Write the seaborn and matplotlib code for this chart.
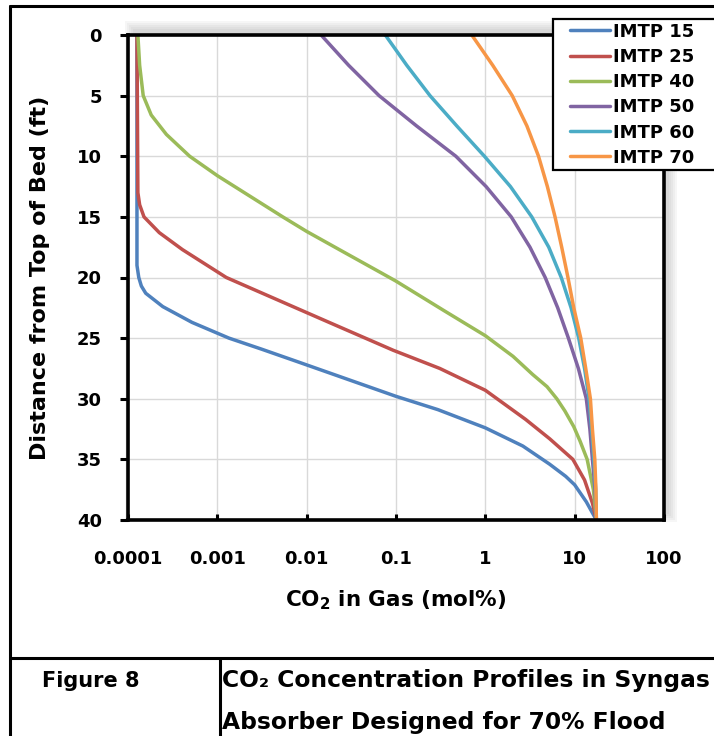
import matplotlib
matplotlib.use('Agg')
import numpy as np
import pandas as pd
import matplotlib.pyplot as plt
import seaborn as sns
from matplotlib.lines import Line2D
from matplotlib.patches import Rectangle
from matplotlib.legend_handler import HandlerLine2D
from matplotlib.ticker import NullLocator

sns.set_style('ticks')
plt.rcParams['font.family'] = ['DejaVu Sans']
plt.rcParams['font.weight'] = 'bold'
plt.rcParams['text.color'] = 'black'
plt.rcParams['axes.labelcolor'] = 'black'

# depth from top of bed (ft) / CO2 in gas (mol%)
depth_15 = [0, 19.0, 20.0, 20.7, 21.3, 22.4, 23.7, 25.0, 25.9, 27.0, 29.8, 30.9, 32.4, 33.9, 35.4,
            36.4, 37.1, 38.5, 40]
co2_15 = [1.26e-4, 1.26e-4, 1.32e-4, 1.41e-4, 1.58e-4, 2.45e-4, 5.2e-4, 1.35e-3, 3.1e-3, 8.3e-3,
          0.1, 0.295, 1.0, 2.63, 5.25, 7.94, 10.0, 13.5, 17.5]

depth_25 = [0, 13.0, 14.0, 15.0, 16.3, 17.7, 20.0, 21.8, 23.7, 26.0, 27.5, 29.3, 31.7, 33.3, 35.0,
            36.7, 38.6, 40]
co2_25 = [1.26e-4, 1.29e-4, 1.35e-4, 1.51e-4, 2.24e-4, 4.07e-4, 1.26e-3, 4.57e-3, 1.78e-2, 0.093,
          0.309, 1.0, 2.82, 5.25, 9.55, 12.9, 15.8, 17.5]

depth_40 = [0, 2.5, 5.0, 6.6, 8.2, 10.0, 11.6, 15.0, 16.2, 17.7, 19.6, 20.3, 22.7, 24.8, 26.5, 28.0,
            29.0, 30.0, 31.0, 32.3, 33.5, 35.0, 37.5, 40]
co2_40 = [1.29e-4, 1.35e-4, 1.48e-4, 1.82e-4, 2.69e-4, 4.9e-4, 1.0e-3, 5.4e-3, 0.01, 0.0232, 0.0676,
          0.1, 0.339, 1.0, 2.04, 3.39, 4.9, 6.31, 7.76, 9.77, 11.5, 13.8, 16.2, 17.5]

depth_50 = [0, 2.5, 5, 7.5, 10, 12.5, 15, 17.5, 20, 22.5, 25, 27.5, 30, 32.5, 35, 37.5, 40]
co2_50 = [0.0145, 0.0295, 0.0646, 0.17, 0.468, 1.02, 1.95, 3.16, 4.68, 6.46, 8.51, 11.0, 13.5, 14.8,
          15.8, 16.9, 17.5]

depth_60 = [0, 2.5, 5, 7.5, 10, 12.5, 15, 17.5, 20, 22.5, 25, 27.5, 30, 32.5, 35, 37.5, 40]
co2_60 = [0.0759, 0.132, 0.24, 0.479, 0.977, 1.91, 3.31, 5.13, 7.08, 9.12, 11.1, 12.9, 14.5, 15.5,
          16.4, 17.2, 17.5]

depth_70 = [0, 2.5, 5, 7.5, 10, 12.5, 15, 17.5, 20, 22.5, 25, 27.5, 30, 32.5, 35, 37.5, 40]
co2_70 = [0.705, 1.21, 2.0, 2.92, 3.94, 4.95, 6.03, 7.16, 8.41, 9.77, 11.7, 13.3, 15.0, 15.8, 16.8,
          17.3, 17.5]

names = ['IMTP 15', 'IMTP 25', 'IMTP 40', 'IMTP 50', 'IMTP 60', 'IMTP 70']
colors = ['#4f81bd', '#c0504d', '#9bbb59', '#8064a2', '#4bacc6', '#f79646']
x_ticks = [0.0001, 0.001, 0.01, 0.1, 1, 10, 100]
x_ticklabels = ['0.0001', '0.001', '0.01', '0.1', '1', '10', '100']
y_ticks = [0, 5, 10, 15, 20, 25, 30, 35, 40]

depths = [depth_15, depth_25, depth_40, depth_50, depth_60, depth_70]
co2s = [co2_15, co2_25, co2_40, co2_50, co2_60, co2_70]
df = pd.concat([pd.DataFrame({'depth': d, 'co2': c, 'series': n})
                for n, d, c in zip(names, depths, co2s)], ignore_index=True)

W, H = 714, 736
fig = plt.figure(figsize=(W / 100, H / 100), dpi=100)
fig.patch.set_facecolor('white')


def fx(px):
    return px / W


def fy(py):
    return 1 - py / H


ax = fig.add_axes([fx(128), fy(520), (664 - 128) / W, (520 - 35) / H])

# soft shadow behind the plot area (excel style)
for k in range(5):
    e = 2 * k
    fig.add_artist(Rectangle((fx(133 - e), fy(514 + e)), (536 + 2 * e) / W, (485 + 2 * e) / H,
                             transform=fig.transFigure, facecolor='#707070', alpha=0.06,
                             edgecolor='none', zorder=-1))

sns.lineplot(data=df, x='co2', y='depth', hue='series', hue_order=names, palette=colors,
             sort=False, estimator=None, linewidth=2.5, legend=False, ax=ax)
for line in ax.get_lines():
    line.set_solid_capstyle('round')
    line.set_solid_joinstyle('round')

ax.set_xscale('log')
ax.set_xlim(1e-4, 100)
ax.set_ylim(40, 0)
ax.set_xticks(x_ticks)
ax.set_xticklabels(x_ticklabels)
ax.xaxis.set_minor_locator(NullLocator())
ax.set_yticks(y_ticks)
ax.tick_params(axis='x', direction='in', length=4.3, width=2.2, pad=21.6, labelsize=13,
               color='black', labelcolor='black')
ax.tick_params(axis='y', direction='out', length=5.8, width=2.2, pad=13, labelsize=13,
               color='black', labelcolor='black')
ax.grid(True, color='#d9d9d9', lw=1.0)
ax.set_axisbelow(True)
for s in ax.spines.values():
    s.set_visible(True)
    s.set_linewidth(2.6)
    s.set_color('black')

ax.set_xlabel('CO$_\\mathregular{2}$ in Gas (mol%)', fontsize=15.5, fontweight='bold')
ax.xaxis.set_label_coords(0.5, -0.140)
ax.set_ylabel('Distance from Top of Bed (ft)', fontsize=16, fontweight='bold')
ax.yaxis.set_label_coords(-0.1455, 0.5)


class InsetLine(HandlerLine2D):
    # legend line drawn in the right part of the handle box
    def get_xdata(self, legend, xdescent, ydescent, width, height, fontsize):
        x0 = -xdescent + 0.25 * width
        return [x0, -xdescent + width], [x0]


leg = ax.legend(ax.get_lines(), names, loc='upper left',
                bbox_to_anchor=(fx(553), fy(175), 180 / W, 156 / H), bbox_transform=fig.transFigure,
                mode='expand', borderaxespad=0, fontsize=13, handlelength=2.97, handletextpad=0.15,
                borderpad=0.2, labelspacing=0.4, frameon=True, fancybox=False, framealpha=1,
                edgecolor='black', handler_map={Line2D: InsetLine()})
leg.get_frame().set_linewidth(1.6)
for t in leg.get_texts():
    t.set_fontweight('bold')

# table-like frame with the caption
frame_kw = dict(color='black', lw=2.2, transform=fig.transFigure, zorder=5)
fig.add_artist(Line2D([fx(10), fx(714)], [fy(6), fy(6)], **frame_kw))
fig.add_artist(Line2D([fx(10), fx(10)], [fy(6), fy(736)], **frame_kw))
fig.add_artist(Line2D([fx(10), fx(714)], [fy(657.5), fy(657.5)], **frame_kw))
fig.add_artist(Line2D([fx(220), fx(220)], [fy(657.5), fy(736)], **frame_kw))

fig.text(fx(42), fy(687), 'Figure 8', fontsize=15, fontweight='bold', va='baseline', ha='left')
fig.text(fx(222), fy(687), 'CO₂ Concentration Profiles in Syngas', fontsize=16.8,
         fontweight='bold', va='baseline', ha='left')
fig.text(fx(222), fy(729), 'Absorber Designed for 70% Flood', fontsize=16.8,
         fontweight='bold', va='baseline', ha='left')

fig.savefig('out.png', dpi=100, facecolor='white')
